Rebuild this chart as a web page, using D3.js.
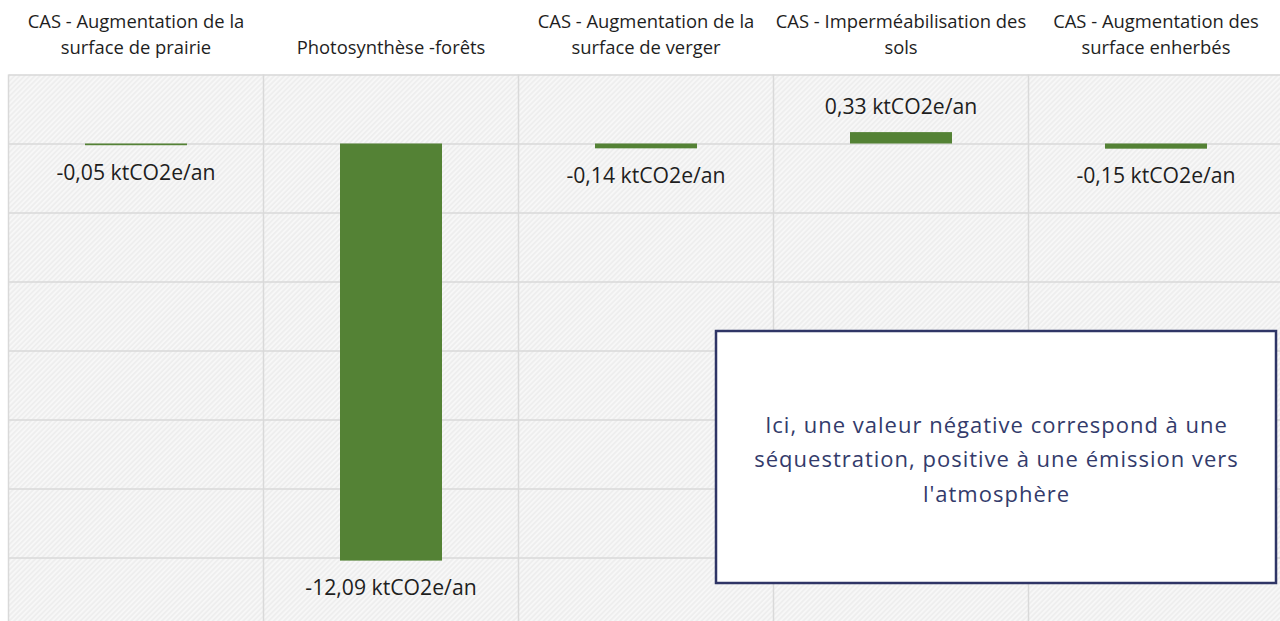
<!DOCTYPE html>
<html lang="fr">
<head>
<meta charset="utf-8">
<script src="https://cdn.jsdelivr.net/npm/d3@7/dist/d3.min.js"></script>
<style>
  html, body { margin: 0; padding: 0; background: #ffffff; }
  svg { display: block; }
</style>
</head>
<body>
<svg id="chart" width="1280" height="621"></svg>
<script>
// Flux de carbone par poste (ktCO2e/an)
const categories = [
  "CAS - Augmentation de la\nsurface de prairie",
  "Photosynthèse -forêts",
  "CAS - Augmentation de la\nsurface de verger",
  "CAS - Imperméabilisation des\nsols",
  "CAS - Augmentation des\nsurface enherbés"
];
const values = [-0.05, -12.09, -0.14, 0.33, -0.15];
const unit = "ktCO2e/an";
const yTicks = [-14, -12, -10, -8, -6, -4, -2, 0, 2];
const noteLines = [
  "Ici, une valeur négative correspond à une",
  "séquestration, positive à une émission vers",
  "l'atmosphère"
];

const svg = d3.select("#chart");
const plot = { left: 8.5, right: 1283.5, top: 74.5, bottom: 626.5 };

const x = d3.scaleBand()
  .domain(categories)
  .range([plot.left, plot.right])
  .paddingInner(0)
  .paddingOuter(0);

const y = d3.scaleLinear()
  .domain([d3.min(yTicks), d3.max(yTicks)])
  .range([plot.bottom, plot.top]);

// Hachures diagonales du fond de la zone de traçage
const defs = svg.append("defs");
const pat = defs.append("pattern")
  .attr("id", "hatch")
  .attr("patternUnits", "userSpaceOnUse")
  .attr("width", 3.6)
  .attr("height", 3.6)
  .attr("patternTransform", "rotate(45)");
pat.append("rect").attr("width", 3.6).attr("height", 3.6).attr("fill", "#eeeeee");
pat.append("line")
  .attr("x1", 0.9).attr("y1", 0).attr("x2", 0.9).attr("y2", 3.6)
  .attr("stroke", "#fbfbfb").attr("stroke-width", 1.3);

svg.append("rect")
  .attr("x", plot.left).attr("y", plot.top)
  .attr("width", plot.right - plot.left).attr("height", plot.bottom - plot.top)
  .attr("fill", "url(#hatch)");

// Quadrillage horizontal
const yAxis = d3.axisLeft(y).tickValues(yTicks).tickSize(-(plot.right - plot.left)).tickFormat("");
svg.append("g")
  .attr("transform", `translate(${plot.left},0)`)
  .call(yAxis)
  .call(g => g.select(".domain").remove())
  .call(g => g.selectAll(".tick line").attr("stroke", "#d9d9d9").attr("stroke-width", 1.5));

// Séparateurs verticaux entre catégories
const bounds = categories.map(c => x(c)).concat([plot.right]);
svg.append("g").selectAll("line")
  .data(bounds)
  .join("line")
  .attr("x1", d => d).attr("x2", d => d)
  .attr("y1", plot.top).attr("y2", plot.bottom)
  .attr("stroke", "#d9d9d9").attr("stroke-width", 1.5);

// Barres
const barW = x.bandwidth() * 0.4;
svg.append("g").selectAll("rect")
  .data(values)
  .join("rect")
  .attr("x", (d, i) => x(categories[i]) + (x.bandwidth() - barW) / 2)
  .attr("y", d => y(Math.max(0, d)))
  .attr("width", barW)
  .attr("height", d => Math.abs(y(d) - y(0)))
  .attr("fill", "#548235");

// Étiquettes de valeur
const fmt = v => v.toFixed(2).replace(".", ",") + " " + unit;
svg.append("g").selectAll("text")
  .data(values)
  .join("text")
  .attr("x", (d, i) => x(categories[i]) + x.bandwidth() / 2)
  .attr("y", d => d < 0 ? y(d) + 34.5 : y(d) - 18)
  .attr("text-anchor", "middle")
  .attr("font-family", "'Open Sans', sans-serif")
  .attr("font-size", 21.2)
  .attr("fill", "#1e1e1e")
  .text(d => fmt(d));

// Libellés de catégories en haut
const head = svg.append("g").selectAll("text")
  .data(categories)
  .join("text")
  .attr("text-anchor", "middle")
  .attr("font-family", "'Open Sans', sans-serif")
  .attr("font-size", 18.4)
  .attr("fill", "#1e1e1e");
head.each(function (c) {
  const lines = c.split("\n");
  const cx = x(c) + x.bandwidth() / 2;
  const t = d3.select(this);
  lines.forEach((ln, k) => {
    t.append("tspan")
      .attr("x", cx)
      .attr("y", 53.5 - (lines.length - 1 - k) * 26)
      .text(ln);
  });
});

// Encadré explicatif
const box = { x: 716, y: 331, w: 560, h: 252 };
svg.append("rect")
  .attr("x", box.x).attr("y", box.y)
  .attr("width", box.w).attr("height", box.h)
  .attr("fill", "#ffffff")
  .attr("stroke", "#2f3566").attr("stroke-width", 2.5);
svg.append("g").selectAll("text")
  .data(noteLines)
  .join("text")
  .attr("x", box.x + box.w / 2 + 0.5)
  .attr("y", (d, i) => 432.5 + i * 34.5)
  .attr("text-anchor", "middle")
  .attr("font-family", "'Open Sans', sans-serif")
  .attr("font-size", 22)
  .attr("letter-spacing", 1.0)
  .attr("fill", "#333b6b")
  .text(d => d);
</script>
</body>
</html>
